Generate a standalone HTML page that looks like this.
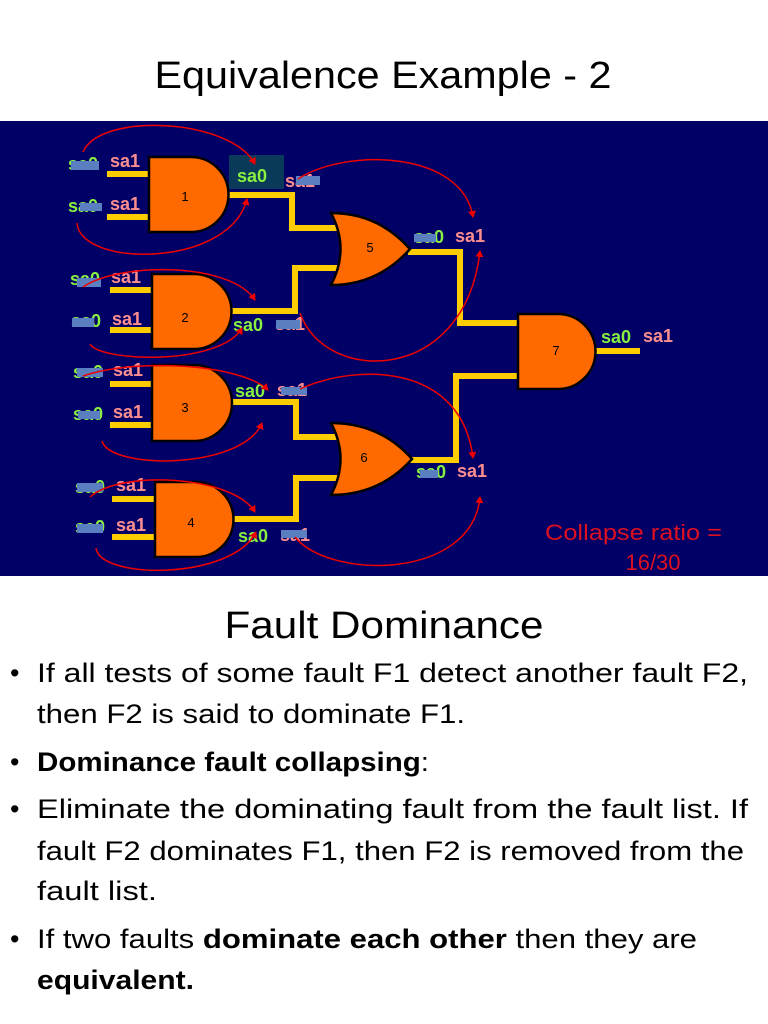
<!DOCTYPE html>
<html><head><meta charset="utf-8"><style>
html,body{margin:0;padding:0;background:#fff;width:768px;height:1024px;overflow:hidden}
svg{display:block}
.t{font-family:"Liberation Sans",sans-serif}
.g{fill:#88f040;font:bold 18px "Liberation Sans",sans-serif}
.p{fill:#ff8f8f;font:bold 18px "Liberation Sans",sans-serif}
.n{font:13px "Liberation Sans",sans-serif;fill:#000;text-anchor:middle}
.s{fill:#5a7fc0}
.w{stroke:#ffcc00;stroke-width:6;fill:none}
.gt{fill:#ff6a00;stroke:#000;stroke-width:2.5}
.a{stroke:#ee0000;stroke-width:1.5;fill:none;marker-end:url(#ah)}
.b{font-family:"Liberation Sans",sans-serif;font-size:27px;fill:#000}
</style></head><body>
<svg width="768" height="1024" viewBox="0 0 768 1024">
<defs><marker id="ah" markerWidth="8" markerHeight="8" refX="6" refY="4" orient="auto" markerUnits="userSpaceOnUse"><path d="M0,0 L7,4 L0,8 Z" fill="#ee0000"/></marker></defs>
<text x="383" y="88" text-anchor="middle" class="t" font-size="38" textLength="457" lengthAdjust="spacingAndGlyphs">Equivalence Example - 2</text>
<rect x="0" y="121" width="768" height="455" fill="#000066"/>
<g class="w">
<path d="M107,174H150M107,217H150"/>
<path d="M229,195H292V228H342"/>
<path d="M110,290H153M110,330H153"/>
<path d="M232,311H295V268H342"/>
<path d="M110,384H153M110,425H153"/>
<path d="M232,402H296V437H342"/>
<path d="M112,499H156M112,537H156"/>
<path d="M234,519H296V478H342"/>
<path d="M408,252H460V323H520"/>
<path d="M410,460H456V376H520"/>
<path d="M596,351H640"/>
</g>
<path class="gt" d="M149,157H191A37.5,37.5 0 0 1 191,232H149Z"/>
<path class="gt" d="M152,274H194A37.5,37.5 0 0 1 194,349H152Z"/>
<path class="gt" d="M152,365H194A38,38 0 0 1 194,441H152Z"/>
<path class="gt" d="M155,482H196A37.5,37.5 0 0 1 196,557H155Z"/>
<path class="gt" d="M518,314H558A37.5,37.5 0 0 1 558,389H518Z"/>
<path class="gt" d="M331,213Q378,213 410,249Q378,285 331,285Q350,249 331,213Z"/>
<path class="gt" d="M331,423Q380,423 412,459Q380,495 331,495Q350,459 331,423Z"/>
<text class="n" x="185" y="201">1</text><text class="n" x="185" y="322">2</text><text class="n" x="185" y="412">3</text><text class="n" x="191" y="527">4</text>
<text class="n" x="370" y="252">5</text><text class="n" x="364" y="462">6</text><text class="n" x="556" y="355">7</text>
<rect x="229" y="155" width="55" height="34" fill="#0a3a5a"/>
<g>
<text class="g" x="68" y="170">sa0</text><text class="p" x="110" y="167">sa1</text>
<text class="g" x="68" y="212">sa0</text><text class="p" x="110" y="210">sa1</text>
<text class="g" x="237" y="182">sa0</text><text class="p" x="285" y="187">sa1</text>
<text class="g" x="70" y="285">sa0</text><text class="p" x="111" y="283">sa1</text>
<text class="g" x="71" y="327">sa0</text><text class="p" x="112" y="325">sa1</text>
<text class="g" x="233" y="331">sa0</text><text class="p" x="275" y="330">sa1</text>
<text class="g" x="73" y="378">sa0</text><text class="p" x="113" y="376">sa1</text>
<text class="g" x="73" y="420">sa0</text><text class="p" x="113" y="418">sa1</text>
<text class="g" x="235" y="397">sa0</text><text class="p" x="277" y="396">sa1</text>
<text class="g" x="75" y="493">sa0</text><text class="p" x="116" y="491">sa1</text>
<text class="g" x="75" y="533">sa0</text><text class="p" x="116" y="531">sa1</text>
<text class="g" x="238" y="542">sa0</text><text class="p" x="280" y="541">sa1</text>
<text class="g" x="414" y="243">sa0</text><text class="p" x="455" y="242">sa1</text>
<text class="g" x="416" y="478">sa0</text><text class="p" x="457" y="477">sa1</text>
<text class="g" x="601" y="343">sa0</text><text class="p" x="643" y="342">sa1</text>
</g>
<g class="s">
<rect x="71" y="161" width="28" height="9"/><rect x="296" y="176" width="24" height="9"/>
<rect x="80" y="203" width="22" height="8"/>
<rect x="77" y="278" width="24" height="9"/><rect x="72" y="318" width="22" height="9"/>
<rect x="276" y="320" width="24" height="9"/>
<rect x="77" y="368" width="26" height="9"/><rect x="78" y="411" width="22" height="8"/>
<rect x="281" y="387" width="26" height="8"/>
<rect x="77" y="483" width="26" height="9"/><rect x="77" y="524" width="26" height="9"/>
<rect x="281" y="530" width="26" height="8"/>
<rect x="414" y="234" width="22" height="8"/><rect x="420" y="470" width="18" height="8"/>
</g>
<g>
<path class="a" d="M83,152C100,112 230,118 255,164"/>
<path class="a" d="M77,223C80,268 230,268 247,199"/>
<path class="a" d="M298,179C345,148 462,150 473,217"/>
<path class="a" d="M300,313C325,385 465,385 480,251"/>
<path class="a" d="M83,287C120,262 230,262 255,300"/>
<path class="a" d="M90,344C100,362 220,366 242,328"/>
<path class="a" d="M83,376C140,357 242,365 268,390"/>
<path class="a" d="M102,441C110,470 242,470 262,423"/>
<path class="a" d="M300,389C360,362 462,365 473,458"/>
<path class="a" d="M90,497C120,470 232,475 255,512"/>
<path class="a" d="M96,548C100,580 232,580 256,532"/>
<path class="a" d="M295,537C330,580 472,580 480,497"/>
</g>
<text x="545" y="540" class="t" font-size="22" fill="#dd1020" textLength="177" lengthAdjust="spacingAndGlyphs">Collapse ratio =</text>
<text x="653" y="570" class="t" font-size="22" fill="#dd1020" text-anchor="middle">16/30</text>
<text x="384" y="638" text-anchor="middle" class="t" font-size="38" textLength="319" lengthAdjust="spacingAndGlyphs">Fault Dominance</text>
<g class="b">
<text x="10" y="682">•</text><text x="10" y="771">•</text><text x="10" y="818">•</text><text x="10" y="948">•</text>
<text x="37" y="682" textLength="711" lengthAdjust="spacingAndGlyphs">If all tests of some fault F1 detect another fault F2,</text>
<text x="37" y="723" textLength="428" lengthAdjust="spacingAndGlyphs">then F2 is said to dominate F1.</text>
<text x="37" y="771" textLength="392" lengthAdjust="spacingAndGlyphs"><tspan font-weight="bold">Dominance fault collapsing</tspan>:</text>
<text x="37" y="818" textLength="711" lengthAdjust="spacingAndGlyphs">Eliminate the dominating fault from the fault list. If</text>
<text x="37" y="860" textLength="707" lengthAdjust="spacingAndGlyphs">fault F2 dominates F1, then F2 is removed from the</text>
<text x="37" y="900" textLength="120" lengthAdjust="spacingAndGlyphs">fault list.</text>
<text x="37" y="948" textLength="660" lengthAdjust="spacingAndGlyphs">If two faults <tspan font-weight="bold">dominate each other</tspan> then they are</text>
<text x="37" y="989" font-weight="bold" textLength="157" lengthAdjust="spacingAndGlyphs">equivalent.</text>
</g>
</svg>
</body></html>
